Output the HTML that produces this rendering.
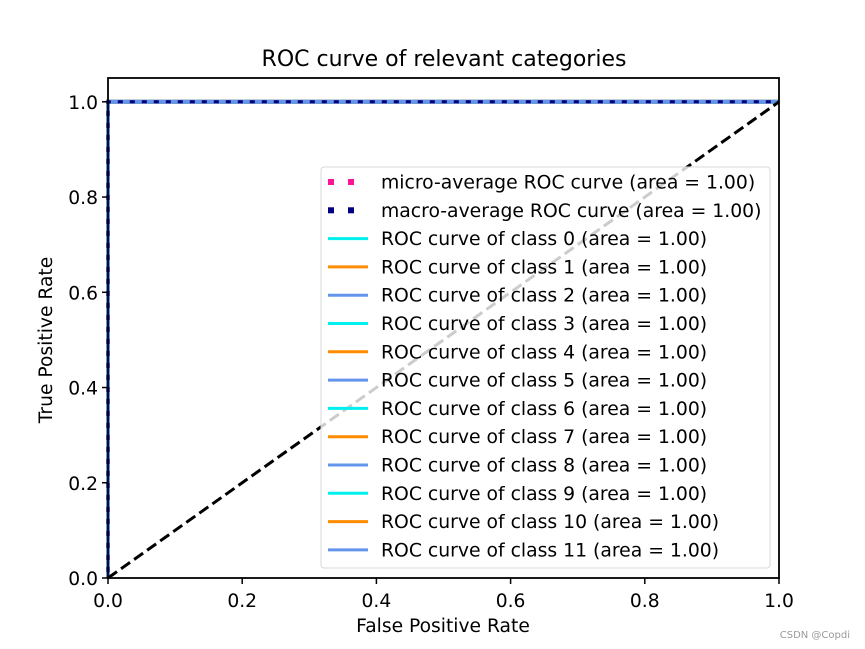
<!DOCTYPE html>
<html><head><meta charset="utf-8"><style>
body{margin:0;background:#fff;}
svg{display:block;font-family:"DejaVu Sans","Liberation Sans",sans-serif;}
</style></head><body>
<svg id="c" width="865" height="649" xmlns="http://www.w3.org/2000/svg"></svg>
<script>
const classes=[0,1,2,3,4,5,6,7,8,9,10,11];
const classAreas=[1.00,1.00,1.00,1.00,1.00,1.00,1.00,1.00,1.00,1.00,1.00,1.00];
const classColors=['#00f0f0','#ff8c00','#6495ed'];
const rocFpr=[0,0,1];
const rocTpr=[0,1,1];
const microArea=1.00, macroArea=1.00;
const xTicks=[0,0.2,0.4,0.6,0.8,1.0];
const yTicks=[0,0.2,0.4,0.6,0.8,1.0];
const L=108,R=779,T=78,B=578;
const xs=v=>L+(R-L)*v;
const ys=v=>B-(B-T)*v/1.05;
const svg=document.getElementById('c');
const NS='http://www.w3.org/2000/svg';
function mk(tag,attrs,parent){const e=document.createElementNS(NS,tag);for(const k in attrs)e.setAttribute(k,attrs[k]);(parent||svg).appendChild(e);return e;}
function pts(){return rocFpr.map((f,i)=>xs(f)+','+ys(rocTpr[i])).join(' ');}
let t=mk('text',{x:444,y:66,'font-size':22,'text-anchor':'middle',fill:'#000'});t.textContent='ROC curve of relevant categories';


const g=mk('g',{});


let mi=mk('polyline',{points:pts(),fill:'none',stroke:'#ff1493','stroke-width':3,'stroke-dasharray':'4 8'},g);


classes.forEach((c,i)=>{const p=mk('polyline',{points:pts(),fill:'none',stroke:classColors[i%3],'stroke-width':4},g);

});
let ma=mk('polyline',{points:pts(),fill:'none',stroke:'#000080','stroke-width':3,'stroke-dasharray':'5 7','stroke-dashoffset':6},g);


let dg=mk('line',{x1:xs(0),y1:ys(0),x2:xs(1),y2:ys(1),stroke:'#000','stroke-width':3,'stroke-dasharray':'11 5'},g);


let fr=mk('rect',{x:L,y:T,width:R-L,height:B-T,fill:'none',stroke:'#000','stroke-width':1.8});


xTicks.forEach(v=>{mk('line',{x1:xs(v),x2:xs(v),y1:B,y2:B+6,stroke:'#000','stroke-width':1.5});
const tx=mk('text',{x:xs(v),y:B+29,'font-size':18.7,'text-anchor':'middle'});tx.textContent=v.toFixed(1);

});
yTicks.forEach(v=>{mk('line',{x1:L-6,x2:L,y1:ys(v),y2:ys(v),stroke:'#000','stroke-width':1.5});
const tx=mk('text',{x:L-10,y:ys(v)+7,'font-size':18.7,'text-anchor':'end'});tx.textContent=v.toFixed(1);

});
let xl=mk('text',{x:443,y:632,'font-size':18.7,'text-anchor':'middle'});xl.textContent='False Positive Rate';


let yl=mk('text',{x:52,y:340,'font-size':18.7,'text-anchor':'middle',transform:'rotate(-90 52 340)'});yl.textContent='True Positive Rate';


const lg=mk('g',{});


mk('rect',{x:321,y:167,width:449,height:401,rx:3,fill:'rgba(255,255,255,0.8)',stroke:'#d8d8d8','stroke-width':1},lg);
const entries=[['micro-average ROC curve (area = '+microArea.toFixed(2)+')','#ff1493',true],['macro-average ROC curve (area = '+macroArea.toFixed(2)+')','#000080',true]];
classes.forEach((c,i)=>entries.push(['ROC curve of class '+c+' (area = '+classAreas[i].toFixed(2)+')',classColors[i%3],false]));
entries.forEach((e,i)=>{const y=182+i*28.3;
const le=mk('g',{},lg);


if(e[2]){mk('rect',{x:328,y:y-3,width:6,height:6,fill:e[1]},le);mk('rect',{x:348,y:y-3,width:6,height:6,fill:e[1]},le);}
else mk('line',{x1:328,x2:368,y1:y,y2:y,stroke:e[1],'stroke-width':3},le);
const tx=mk('text',{x:381,y:y+6.5,'font-size':18.8},le);tx.textContent=e[0];});
let wm=mk('text',{x:850,y:638,'font-size':10,'text-anchor':'end',fill:'#999'});wm.textContent='CSDN @Copdi';


</script>
</body></html>
